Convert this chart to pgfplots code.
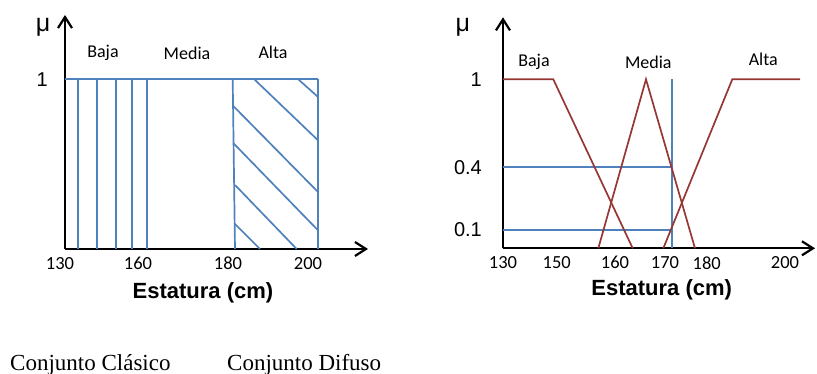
\documentclass[border=0pt]{standalone}
\usepackage{fontspec}
\usepackage{pgfplots}
\pgfplotsset{compat=1.18}
\usetikzlibrary{arrows.meta}
\newfontfamily\carl{Carlito}
\newfontfamily\arl{Liberation Sans}
\newfontfamily\tnr{Liberation Serif}
\definecolor{lblue}{RGB}{79,129,189}
\definecolor{lred}{RGB}{149,55,53}
\pgfplotsset{panel/.style={
  x=1bp, y=1bp, axis lines=left, xmin=0, ymin=0, clip=false,
  axis line style={line width=2.2bp, -{Straight Barb[length=11bp,width=14bp]}},
  major tick length=0,
  /pgf/number format/assume math mode=true,
  xticklabel style={font=\carl\fontsize{18.5bp}{20bp}\selectfont, anchor=north, inner sep=0pt, yshift=-8bp},
  yticklabel style={font=\arl\fontsize{20bp}{22bp}\selectfont, anchor=east, inner sep=0pt},
  xlabel style={font=\arl\bfseries\fontsize{22bp}{24bp}\selectfont, anchor=center},
},
bl/.style={color=lblue, line width=1.7bp, mark=none},
rd/.style={color=lred, line width=1.7bp, mark=none}}
\begin{document}
\begin{tikzpicture}
\useasboundingbox (0,0) rectangle (817bp,374bp);
% ---------- Conjunto Clasico ----------
\begin{axis}[panel, at={(65bp,125bp)}, anchor=south west,
  xmax=303, ymax=234,
  xtick={73,163,243}, xticklabels={160,180,200},
  extra x ticks={0}, extra x tick labels={130},
  extra x tick style={xticklabel style={xshift=-5bp}},
  ytick={169.7}, yticklabels={1},
  yticklabel style={xshift=-17bp},
  xlabel={Estatura (cm)},
  xlabel style={at={(axis description cs:0.4554,-0.188)}}]
\addplot[bl] coordinates {(0,169.7) (252.7,169.7)};
\addplot[bl] coordinates {(12.7,169.7) (12.7,0)};
\addplot[bl] coordinates {(31.7,169.7) (31.7,0)};
\addplot[bl] coordinates {(51,169.7) (51,0)};
\addplot[bl] coordinates {(66.7,169.7) (66.7,0)};
\addplot[bl] coordinates {(82.3,169.7) (82.3,0)};
\addplot[bl] coordinates {(167.7,169.7) (170,0)};
\addplot[bl] coordinates {(252.7,169.7) (252.7,0)};
\addplot[bl] coordinates {(189.3,169.7) (252.7,109)};
\addplot[bl] coordinates {(233.3,169.7) (252.7,152.3)};
\addplot[bl] coordinates {(168.3,143) (252.7,57.3)};
\addplot[bl] coordinates {(168.5,105.7) (252.7,19)};
\addplot[bl] coordinates {(170,64) (231.7,0)};
\addplot[bl] coordinates {(170,25) (195,0)};
\node[font=\carl\fontsize{18bp}{20bp}\selectfont] at (axis cs:38,196) {Baja};
\node[font=\carl\fontsize{18bp}{20bp}\selectfont] at (axis cs:122,196) {Media};
\node[font=\carl\fontsize{18bp}{20bp}\selectfont] at (axis cs:208,197) {Alta};
\node[font=\arl\fontsize{25bp}{27bp}\selectfont] at (axis cs:-22,222) {μ};
\end{axis}
% ---------- Conjunto Difuso ----------
\begin{axis}[panel, at={(503bp,125.7bp)}, anchor=south west,
  xmax=312, ymax=231,
  xtick={0,53.7,112,162,203.7,282}, xticklabels={130,150,160,170,180,200},
  ytick={18.3,81,169}, yticklabels={0.1\hspace{4bp},0.4\hspace{4bp},1},
  yticklabel style={xshift=-21bp},
  xlabel={Estatura (cm)},
  xlabel style={at={(axis description cs:0.5087,-0.1805)}}]
\addplot[bl] coordinates {(0,81) (168.7,81)};
\addplot[bl] coordinates {(0,18.3) (168.7,18.3)};
\addplot[bl] coordinates {(168.7,169) (168.7,0)};
\addplot[rd] coordinates {(0,169) (50.3,169) (129.7,0)};
\addplot[rd] coordinates {(95.3,0) (143,169) (192,0)};
\addplot[rd] coordinates {(160.3,0) (229.3,169) (297,169)};
\node[font=\carl\fontsize{18bp}{20bp}\selectfont] at (axis cs:31,186.3) {Baja};
\node[font=\carl\fontsize{18bp}{20bp}\selectfont] at (axis cs:145.3,186.3) {Media};
\node[font=\carl\fontsize{18bp}{20bp}\selectfont] at (axis cs:260.3,189.3) {Alta};
\node[font=\arl\fontsize{25bp}{27bp}\selectfont] at (axis cs:-40.3,221.3) {μ};
\end{axis}
% ---------- captions ----------
\node[anchor=base west, inner sep=0pt, font=\tnr\fontsize{23bp}{25bp}\selectfont] at (10bp,4bp) {Conjunto Clásico};
\node[anchor=base west, inner sep=0pt, font=\tnr\fontsize{23bp}{25bp}\selectfont] at (227bp,4bp) {Conjunto Difuso};
\end{tikzpicture}
\end{document}
